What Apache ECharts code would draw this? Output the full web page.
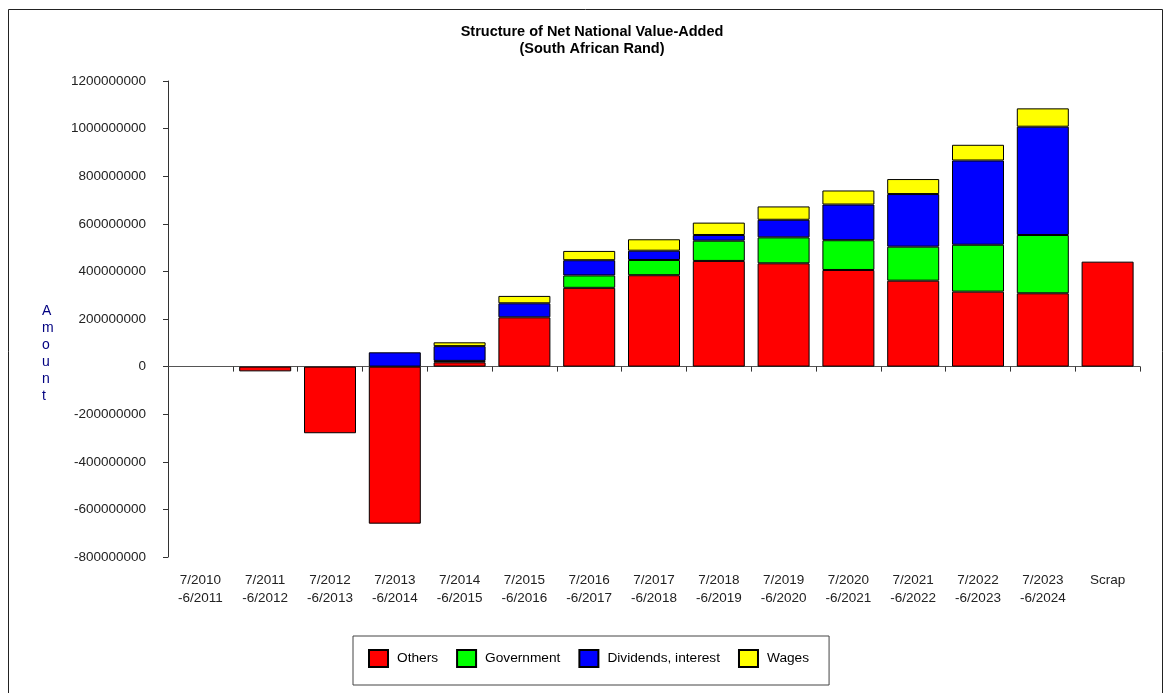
<!DOCTYPE html>
<html>
<head>
<meta charset="utf-8">
<title>Structure of Net National Value-Added</title>
<script src="https://cdn.jsdelivr.net/npm/echarts@6/dist/echarts.min.js"></script>
<style>
  html, body { margin: 0; padding: 0; background: #fff; }
  #chart { width: 1165px; height: 693px; }
</style>
</head>
<body>
<div id="chart"></div>
<script>
// categories (financial years) and the scrap column
var categories = [
  '7/2010\n-6/2011', '7/2011\n-6/2012', '7/2012\n-6/2013', '7/2013\n-6/2014',
  '7/2014\n-6/2015', '7/2015\n-6/2016', '7/2016\n-6/2017', '7/2017\n-6/2018',
  '7/2018\n-6/2019', '7/2019\n-6/2020', '7/2020\n-6/2021', '7/2021\n-6/2022',
  '7/2022\n-6/2023', '7/2023\n-6/2024', 'Scrap'
];

// values (Rand)
var others    = [null, -20e6, -280e6, -660e6, 18e6, 207e6, 331e6, 384e6, 444e6, 434e6, 406e6, 361e6, 315e6, 308e6, 441e6];
var government = [null, null, null, null, 6e6, null, 52e6, 64e6, 85e6, 109e6, 125e6, 143e6, 197e6, 245e6, null];
var dividends = [null, null, null, 60e6, 62e6, 59e6, 64e6, 39e6, 24e6, 74e6, 150e6, 221e6, 354e6, 455e6, null];
var wages     = [null, null, null, null, 16e6, 31e6, 39e6, 48e6, 52e6, 56e6, 59e6, 63e6, 66e6, 77e6, null];

var yTicks = { min: -800000000, max: 1200000000, step: 200000000 };

var chart = echarts.init(document.getElementById('chart'), null, { renderer: 'canvas' });
var font = 'Liberation Sans, Arial, sans-serif';

function bar(name, data, color) {
  return {
    name: name,
    type: 'bar',
    stack: 'total',
    data: data,
    barWidth: 52,
    xAxisIndex: 0,
    itemStyle: { color: color, borderColor: '#000', borderWidth: 1 },
    emphasis: { disabled: true }
  };
}

var option = {
  animation: false,
  backgroundColor: '#fff',
  textStyle: { fontFamily: font },
  title: {
    text: 'Structure of Net National Value-Added\n(South African Rand)',
    left: 587,
    top: 18,
    textAlign: 'center',
    textStyle: { fontSize: 14.5, fontWeight: 'bold', color: '#000', lineHeight: 17, fontFamily: font }
  },
  grid: { left: 168, top: 81, width: 972, height: 476, containLabel: false },
  legend: {
    left: 353,
    top: 636,
    orient: 'horizontal',
    padding: [13, 20, 17, 15],
    borderColor: '#444',
    borderWidth: 1,
    itemWidth: 19,
    itemHeight: 17,
    itemGap: 18,
    icon: 'rect',
    textStyle: { fontSize: 13.7, color: '#000', fontFamily: font, padding: [0, 0, 0, 4] },
    data: ['Others', 'Government', 'Dividends, interest', 'Wages']
  },
  xAxis: [
    {
      type: 'category',
      data: categories,
      axisLine: { onZero: true, lineStyle: { color: '#555', width: 1 } },
      axisTick: { show: true, interval: 0, length: 5, lineStyle: { color: '#333' } },
      axisLabel: { show: false },
      splitLine: { show: false }
    },
    {
      type: 'category',
      data: categories,
      position: 'bottom',
      axisLine: { show: false, onZero: false },
      axisTick: { show: false },
      axisLabel: {
        interval: 0,
        margin: 14,
        fontSize: 13.5,
        lineHeight: 18,
        color: '#222',
        fontFamily: font
      },
      splitLine: { show: false }
    }
  ],
  yAxis: {
    type: 'value',
    min: yTicks.min,
    max: yTicks.max,
    interval: yTicks.step,
    axisLine: { show: true, lineStyle: { color: '#333', width: 1 } },
    axisTick: { show: true, length: 5, lineStyle: { color: '#333' } },
    splitLine: { show: false },
    axisLabel: {
      margin: 22,
      fontSize: 13.5,
      color: '#222',
      fontFamily: font,
      formatter: function (v) { return String(Math.round(v)); }
    }
  },
  graphic: [
    {
      type: 'rect',
      shape: { x: 8.5, y: 9.5, width: 1154, height: 700 },
      style: { fill: 'none', stroke: '#222', lineWidth: 1 },
      silent: true
    },
    {
      type: 'text',
      left: 42,
      top: 303,
      style: {
        text: 'A\nm\no\nu\nn\nt',
        fill: '#000080',
        font: '14px ' + font,
        lineHeight: 17,
        align: 'center'
      },
      silent: true
    }
  ],
  series: [
    bar('Others', others, '#ff0000'),
    bar('Government', government, '#00ff00'),
    bar('Dividends, interest', dividends, '#0000ff'),
    bar('Wages', wages, '#ffff00')
  ]
};

chart.setOption(option);
</script>
</body>
</html>
